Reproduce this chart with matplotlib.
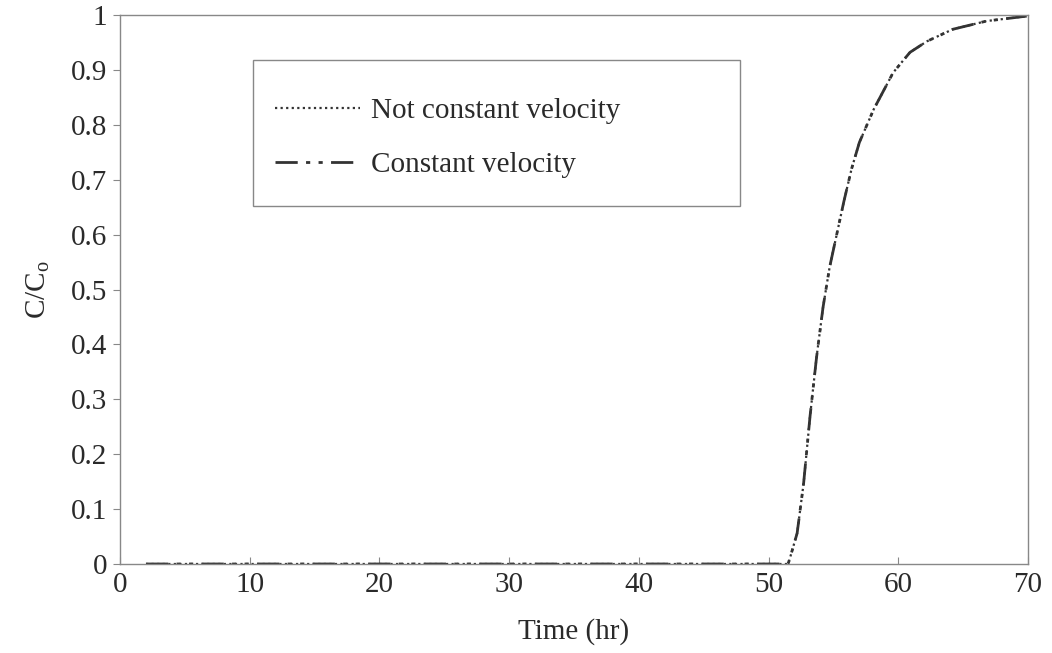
import matplotlib
matplotlib.use("Agg")
import matplotlib.pyplot as plt
from matplotlib.patches import Rectangle

# breakthrough curve (time in hr, C/Co)
time_nc = [2, 10, 20, 30, 40, 50, 51.5, 51.65, 52.2, 52.7, 53.2, 53.7, 54.2, 54.7,
           55.25, 55.8, 56.4, 57.0, 58.1, 59.6, 60.3, 60.9, 62.2, 64.2, 66.8, 69.9]
conc_nc = [0, 0, 0, 0, 0, 0, 0, 0.011, 0.056, 0.147, 0.27, 0.377, 0.468, 0.54,
           0.60, 0.66, 0.72, 0.768, 0.828, 0.895, 0.915, 0.932, 0.952, 0.974, 0.989, 0.998]
time_cv = [2, 10, 20, 30, 40, 50, 51.5, 51.65, 52.2, 52.7, 53.2, 53.7, 54.2, 54.7,
           55.25, 55.8, 56.4, 57.0, 58.1, 59.6, 60.3, 60.9, 62.2, 64.2, 66.8, 69.9]
conc_cv = [0, 0, 0, 0, 0, 0, 0, 0.011, 0.056, 0.147, 0.27, 0.377, 0.468, 0.54,
           0.60, 0.66, 0.72, 0.768, 0.828, 0.895, 0.915, 0.932, 0.952, 0.974, 0.989, 0.998]

x_ticks = [0, 10, 20, 30, 40, 50, 60, 70]
y_ticks = [0, 0.1, 0.2, 0.3, 0.4, 0.5, 0.6, 0.7, 0.8, 0.9, 1]
y_tick_labels = ['0', '0.1', '0.2', '0.3', '0.4', '0.5', '0.6', '0.7', '0.8', '0.9', '1']

plt.rcParams['font.family'] = 'Liberation Serif'
plt.rcParams['mathtext.fontset'] = 'custom'
plt.rcParams['mathtext.rm'] = 'Liberation Serif'

fig = plt.figure(figsize=(10.52, 6.53), dpi=100)
ax = fig.add_axes([0.1141, 0.1363, 0.8631, 0.8407])

ink = '#333333'
ax.plot(time_nc, conc_nc, color=ink, lw=1.6, linestyle=(0, (1, 1.5)),
        label='Not constant velocity')
ax.plot(time_cv, conc_cv, color=ink, lw=2.0, linestyle=(0, (8, 3, 1.5, 3, 1.5, 3)),
        label='Constant velocity')

ax.set_xlim(0, 70)
ax.set_ylim(0, 1)
ax.set_xticks(x_ticks)
ax.set_xticklabels([str(v) for v in x_ticks])
ax.set_yticks(y_ticks)
ax.set_yticklabels(y_tick_labels)
ax.tick_params(axis='x', direction='in', length=5, width=0.8, colors='#888888',
               labelcolor='#2a2a2a', labelsize=21, pad=6)
ax.tick_params(axis='y', direction='out', length=5, width=0.8, colors='#888888',
               labelcolor='#2a2a2a', labelsize=21, pad=4)
for s in ax.spines.values():
    s.set_color('#888888')
    s.set_linewidth(1.0)

ax.set_xlabel('Time (hr)', fontsize=21, color='#2a2a2a', labelpad=14)
ax.set_ylabel(r'C/C$_\mathrm{o}$', fontsize=21, color='#2a2a2a', labelpad=14)

# legend box drawn separately so the entries can sit where they do in the original
ax.add_patch(Rectangle((0.1465, 0.652), 0.5365, 0.266, transform=ax.transAxes,
                       fill=False, edgecolor='#888888', lw=1.0, zorder=5))
leg = ax.legend(loc='upper left', bbox_to_anchor=(0.1707, 0.850),
                fontsize=21, frameon=False, handlelength=2.9, handletextpad=0.4,
                labelspacing=0.95, borderpad=0, borderaxespad=0)
for t in leg.get_texts():
    t.set_color('#2a2a2a')

fig.savefig('out.png', dpi=100)
